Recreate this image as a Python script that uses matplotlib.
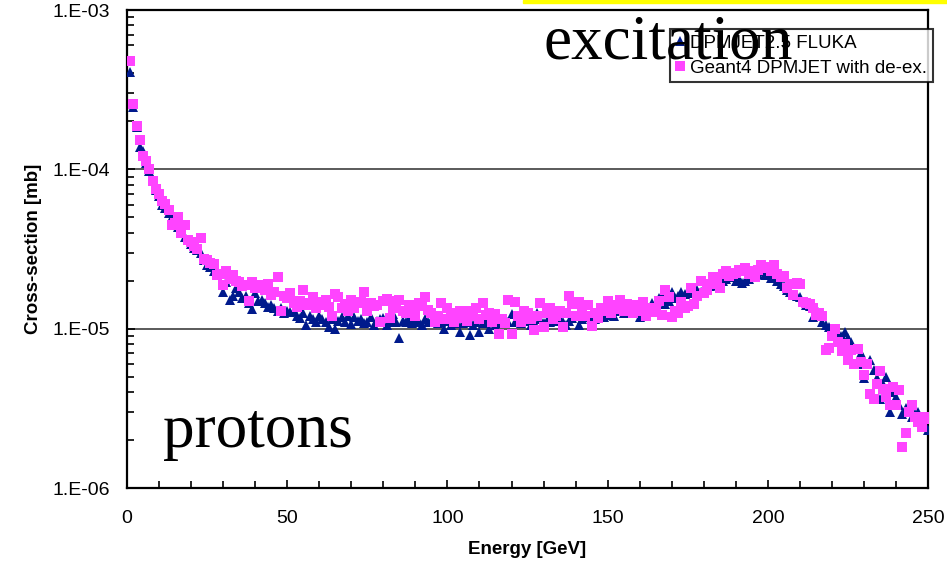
import numpy as np
import matplotlib.pyplot as plt
from matplotlib.patches import Rectangle
from matplotlib.ticker import FixedLocator, LogLocator, NullFormatter, MultipleLocator

# energy bins [GeV]
energy = np.arange(1, 251)

# cross-sections in units of 1e-5 mb
fluka = [
    41, 24.5, 18.5, 13.9, 13.0, 11.0, 9.8, 8.6, 7.4, 6.8,
    6.0, 5.75, 5.3, 5.0, 4.6, 4.35, 4.0, 3.75, 3.6, 3.4,
    3.2, 3.1, 2.97, 2.7, 2.5, 2.45, 2.3, 2.25, 2.2, 1.7,
    1.95, 1.52, 1.6, 1.8, 1.7, 1.55, 1.6, 1.45, 1.33, 1.67,
    1.5, 1.52, 1.45, 1.37, 1.4, 1.35, 1.3, 1.35, 1.25, 1.3,
    1.28, 1.3, 1.2, 1.16, 1.25, 1.05, 1.2, 1.15, 1.1, 1.2,
    1.15, 1.1, 1.02, 1.15, 1.0, 1.12, 1.18, 1.1, 1.2, 1.07,
    1.18, 1.12, 1.15, 1.08, 1.1, 1.18, 1.06, 1.12, 1.15, 1.16,
    1.06, 1.1, 1.24, 1.1, 0.88, 1.12, 1.1, 1.15, 1.08, 1.12,
    1.1, 1.06, 1.15, 1.1, 1.12, 1.17, 1.08, 1.1, 0.99, 1.12,
    1.05, 1.1, 1.08, 0.96, 1.08, 1.1, 0.91, 1.05, 1.1, 0.95,
    1.08, 1.12, 0.99, 1.1, 1.05, 1.12, 1.08, 1.15, 1.1, 1.23,
    1.1, 1.15, 1.08, 1.17, 1.12, 1.05, 1.1, 1.26, 1.15, 1.08,
    1.12, 1.1, 1.18, 1.12, 1.15, 1.1, 1.05, 1.12, 1.17, 1.2,
    1.06, 1.15, 1.2, 1.18, 1.22, 1.15, 1.2, 1.25, 1.18, 1.22,
    1.28, 1.2, 1.3, 1.36, 1.25, 1.3, 1.28, 1.35, 1.25, 1.18,
    1.32, 1.4, 1.35, 1.45, 1.38, 1.55, 1.6, 1.42, 1.5, 1.7,
    1.55, 1.6, 1.7, 1.65, 1.7, 1.68, 1.72, 1.74, 1.7, 1.8,
    1.82, 1.85, 1.87, 1.9, 1.98, 2.0, 2.05, 2.17, 2.1, 1.98,
    2.05, 1.93, 2.0, 2.05, 2.1, 2.15, 2.2, 2.3, 2.17, 2.2,
    2.07, 2.1, 1.98, 1.9, 1.85, 1.75, 1.7, 1.63, 1.6, 1.57,
    1.47, 1.4, 1.38, 1.18, 1.35, 1.2, 1.1, 1.05, 1.02, 1.0,
    0.98, 0.96, 0.9, 0.96, 0.88, 0.82, 0.75, 0.6, 0.7, 0.49,
    0.6, 0.64, 0.55, 0.49, 0.36, 0.45, 0.5, 0.30, 0.4, 0.37,
    0.33, 0.29, 0.32, 0.30, 0.28, 0.29, 0.30, 0.26, 0.25, 0.23,
]

geant4 = [
    48, 25.7, 18.7, 15.3, 12.1, 11.3, 10.0, 8.45, 7.5, 7.0,
    6.3, 6.1, 5.56, 4.45, 4.6, 5.0, 4.0, 4.45, 3.6, 3.5,
    3.3, 3.15, 3.7, 2.75, 2.7, 2.6, 2.55, 2.17, 2.2, 1.87,
    2.3, 2.05, 2.17, 2.0, 1.97, 1.85, 1.87, 1.5, 1.97, 1.8,
    1.87, 1.8, 1.75, 1.9, 1.63, 1.7, 2.1, 1.3, 1.6, 1.55,
    1.67, 1.45, 1.37, 1.5, 1.74, 1.4, 1.45, 1.57, 1.35, 1.47,
    1.4, 1.52, 1.37, 1.2, 1.64, 1.57, 1.35, 1.42, 1.3, 1.52,
    1.35, 1.45, 1.47, 1.7, 1.3, 1.45, 1.38, 1.4, 1.1, 1.5,
    1.53, 1.16, 1.35, 1.5, 1.52, 1.3, 1.26, 1.4, 1.35, 1.2,
    1.45, 1.38, 1.59, 1.31, 1.25, 1.1, 1.2, 1.44, 1.15, 1.35,
    1.25, 1.1, 1.17, 1.3, 1.26, 1.12, 1.29, 1.2, 1.35, 1.15,
    1.45, 1.22, 1.26, 1.1, 1.23, 0.92, 1.15, 1.08, 1.52, 0.92,
    1.48, 1.2, 1.1, 1.3, 1.26, 1.15, 0.98, 1.2, 1.44, 1.02,
    1.25, 1.34, 1.15, 1.2, 1.3, 1.02, 1.25, 1.6, 1.42, 1.2,
    1.46, 1.3, 1.2, 1.4, 1.04, 1.25, 1.17, 1.35, 1.3, 1.5,
    1.25, 1.4, 1.32, 1.52, 1.3, 1.42, 1.32, 1.25, 1.4, 1.3,
    1.47, 1.2, 1.35, 1.28, 1.35, 1.5, 1.22, 1.74, 1.57, 1.18,
    1.29, 1.25, 1.47, 1.35, 1.38, 1.8, 1.42, 1.6, 1.98, 1.67,
    1.75, 1.9, 2.1, 1.95, 1.8, 2.2, 2.3, 2.15, 2.2, 2.25,
    2.35, 2.3, 2.4, 2.2, 2.3, 2.1, 2.35, 2.5, 2.4, 2.45,
    2.3, 2.5, 2.2, 2.1, 2.15, 1.8, 1.9, 1.63, 1.93, 1.9,
    1.47, 1.45, 1.42, 1.35, 1.22, 1.25, 1.2, 0.74, 0.76, 0.9,
    0.99, 0.83, 0.72, 0.8, 0.64, 0.74, 0.6, 0.75, 0.62, 0.51,
    0.6, 0.39, 0.36, 0.45, 0.54, 0.42, 0.37, 0.33, 0.43, 0.33,
    0.41, 0.18, 0.22, 0.30, 0.33, 0.28, 0.26, 0.24, 0.28, 0.27,
]

y_ticks = [1e-6, 1e-5, 1e-4, 1e-3]
y_labels = ["1.E-06", "1.E-05", "1.E-04", "1.E-03"]

plt.rcParams["font.family"] = ["Liberation Sans", "DejaVu Sans"]

fig = plt.figure(figsize=(9.47, 5.66), dpi=100)
ax = fig.add_axes([0.1341, 0.1378, 0.8459, 0.8445])

ax.plot(energy, np.array(fluka) * 1e-5, "^", color="#001a8c", ms=6.5, mew=0,
        label="DPMJET2.5 FLUKA", zorder=3)
ax.plot(energy, np.array(geant4) * 1e-5, "s", color="#ff44ff", ms=6.5, mew=0,
        label="Geant4 DPMJET with de-ex.", zorder=4)

ax.set_yscale("log")
ax.set_xlim(0, 250)
ax.set_ylim(1e-6, 1e-3)
ax.yaxis.set_major_locator(FixedLocator(y_ticks))
ax.set_yticklabels(y_labels)
ax.yaxis.set_minor_locator(LogLocator(base=10, subs=np.arange(2, 10)))
ax.yaxis.set_minor_formatter(NullFormatter())
ax.xaxis.set_major_locator(MultipleLocator(50))
ax.xaxis.set_minor_locator(MultipleLocator(10))

ax.tick_params(which="both", direction="in", labelsize=14, width=1.2)
ax.tick_params(which="major", length=6)
ax.tick_params(which="minor", length=5)
ax.tick_params(axis="x", which="both", pad=16)
ax.tick_params(axis="y", which="both", pad=12)

for s in ax.spines.values():
    s.set_linewidth(1.6)
    s.set_color("black")

for v in [1e-5, 1e-4]:
    ax.axhline(v, color="0.3", lw=1.3, zorder=1)

ax.set_xlabel("Energy [GeV]", fontsize=13.5, fontweight="bold", labelpad=10)
ax.set_ylabel("Cross-section [mb]", fontsize=13.5, fontweight="bold", labelpad=8)

leg = ax.legend(loc="upper right", bbox_to_anchor=(933 / 947, 1 - 29 / 566),
                bbox_transform=fig.transFigure, borderaxespad=0, fontsize=13.5,
                frameon=True, fancybox=False, handlelength=0.5, handletextpad=0.3,
                borderpad=0.3, labelspacing=0.42, markerscale=1.0)
leg.get_frame().set_edgecolor("black")
leg.get_frame().set_linewidth(1.5)

fig.text(543 / 947, 1 - 58 / 566, "excitation", fontsize=45.5,
         family=["Liberation Serif", "DejaVu Serif"], va="baseline", ha="left")
fig.text(163 / 947, 1 - 447 / 566, "protons", fontsize=45.5,
         family=["Liberation Serif", "DejaVu Serif"], va="baseline", ha="left")

fig.patches.append(Rectangle((523 / 947, 1 - 2.5 / 566), 1, 2.5 / 566,
                             transform=fig.transFigure, color="#ffff00"))

fig.savefig("out.png", dpi=100)
